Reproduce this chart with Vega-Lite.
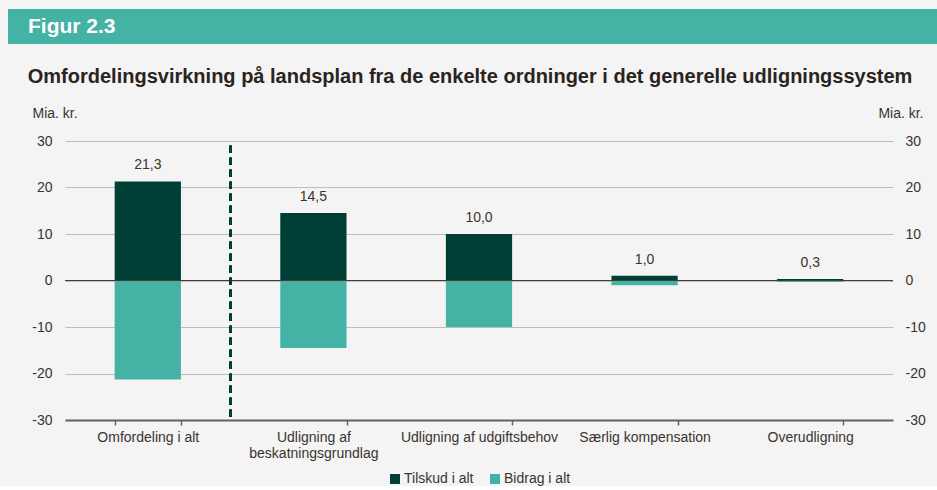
{
  "$schema": "https://vega.github.io/schema/vega-lite/v6.json",
  "background": "#f4f4f4",
  "padding": {"left": 8, "top": 9, "right": 0, "bottom": 0},
  "spacing": 97,
  "center": true,
  "bounds": "flush",
  "datasets": {
    "bars": [
      {"cat": "Omfordeling i alt", "series": "Tilskud i alt", "value": 21.3},
      {"cat": "Omfordeling i alt", "series": "Bidrag i alt", "value": -21.3},
      {"cat": "Udligning af beskatningsgrundlag", "series": "Tilskud i alt", "value": 14.5},
      {"cat": "Udligning af beskatningsgrundlag", "series": "Bidrag i alt", "value": -14.5},
      {"cat": "Udligning af udgiftsbehov", "series": "Tilskud i alt", "value": 10.0},
      {"cat": "Udligning af udgiftsbehov", "series": "Bidrag i alt", "value": -10.0},
      {"cat": "Særlig kompensation", "series": "Tilskud i alt", "value": 1.0},
      {"cat": "Særlig kompensation", "series": "Bidrag i alt", "value": -1.0},
      {"cat": "Overudligning", "series": "Tilskud i alt", "value": 0.3},
      {"cat": "Overudligning", "series": "Bidrag i alt", "value": -0.3}
    ],
    "header": [{"label": "Figur 2.3"}]
  },
  "vconcat": [
    {
      "width": 942,
      "height": 35,
      "view": {"fill": "#44b2a4", "stroke": null},
      "data": {"name": "header"},
      "mark": {"type": "text", "align": "left", "baseline": "middle", "dx": 20, "font": "Liberation Sans", "fontSize": 21, "fontWeight": "bold", "color": "#ffffff"},
      "encoding": {
        "x": {"datum": 0, "type": "quantitative", "scale": {"domain": [0, 1]}, "axis": null},
        "y": {"datum": 0.5, "type": "quantitative", "scale": {"domain": [0, 1]}, "axis": null},
        "text": {"field": "label"}
      }
    },
    {
      "width": 828,
      "height": 279,
      "view": {"stroke": null},
      "title": {
        "text": "Omfordelingsvirkning på landsplan fra de enkelte ordninger i det generelle udligningssystem",
        "anchor": "start",
        "dx": -4,
        "offset": 19,
        "font": "Liberation Sans",
        "fontSize": 20,
        "fontWeight": "bold",
        "color": "#2b2320"
      },
      "data": {"name": "bars"},
      "resolve": {"axis": {"y": "independent"}},
      "layer": [
        {
          "mark": {"type": "bar"},
          "encoding": {
            "x": {
              "field": "cat",
              "type": "nominal",
              "sort": ["Omfordeling i alt", "Udligning af beskatningsgrundlag", "Udligning af udgiftsbehov", "Særlig kompensation", "Overudligning"],
              "scale": {"paddingInner": 0.6, "paddingOuter": 0.3},
              "axis": {
                "title": null,
                "labelAngle": 0,
                "labelExpr": "datum.label == 'Udligning af beskatningsgrundlag' ? ['Udligning af', 'beskatningsgrundlag'] : datum.label",
                "tickBand": "extent",
                "tickSize": 5,
                "tickWidth": 1.5,
                "tickColor": "#6b5f57",
                "domainColor": "#6b5f57",
                "domainWidth": 2,
                "labelPadding": 5,
                "labelLineHeight": 16
              }
            },
            "y": {
              "field": "value",
              "type": "quantitative",
              "stack": null,
              "scale": {"domain": [-30, 30], "nice": false},
              "axis": {
                "orient": "left",
                "values": [-30, -20, -10, 0, 10, 20, 30],
                "grid": true,
                "gridColor": "#bdbdbd",
                "gridWidth": 1,
                "domain": false,
                "ticks": false,
                "tickSize": 0,
                "labelPadding": 13,
                "title": "Mia. kr.",
                "titleAngle": 0,
                "titleAlign": "left",
                "titleBaseline": "middle",
                "titleX": -33,
                "titleY": -28
              }
            },
            "color": {
              "field": "series",
              "type": "nominal",
              "scale": {"domain": ["Tilskud i alt", "Bidrag i alt"], "range": ["#003f35", "#44b3a5"]},
              "legend": {
                "title": null,
                "orient": "bottom",
                "direction": "horizontal",
                "symbolType": "square",
                "symbolSize": 100,
                "symbolStrokeWidth": 0,
                "labelFontSize": 14,
                "labelColor": "#3b332e",
                "labelFont": "Liberation Sans",
                "columnPadding": 14,
                "labelOffset": 2,
                "offset": 12
              }
            }
          }
        },
        {
          "transform": [{"filter": "datum.series == 'Tilskud i alt'"}],
          "mark": {"type": "text", "baseline": "middle", "dy": -16, "fontSize": 14, "font": "Liberation Sans", "color": "#3b332e"},
          "encoding": {
            "x": {"field": "cat", "type": "nominal", "sort": ["Omfordeling i alt", "Udligning af beskatningsgrundlag", "Udligning af udgiftsbehov", "Særlig kompensation", "Overudligning"]},
            "y": {
              "field": "value",
              "type": "quantitative",
              "scale": {"domain": [-30, 30], "nice": false},
              "axis": {
                "orient": "right",
                "values": [-30, -20, -10, 0, 10, 20, 30],
                "grid": false,
                "domain": false,
                "ticks": false,
                "tickSize": 0,
                "labelPadding": 12,
                "labelAlign": "left",
                "title": "Mia. kr.",
                "titleAngle": 0,
                "titleAlign": "right",
                "titleBaseline": "middle",
                "titleX": 30,
                "titleY": -28
              }
            },
            "text": {"field": "value", "type": "quantitative", "format": ".1f"}
          }
        },
        {
          "mark": {"type": "rule", "color": "#4a3b30", "strokeWidth": 1.2},
          "encoding": {"y": {"datum": 0, "axis": null}}
        },
        {
          "mark": {"type": "rule", "color": "#003f35", "strokeWidth": 2, "strokeDash": [7, 5]},
          "encoding": {
            "x": {"datum": "Omfordeling i alt", "bandPosition": 1.75},
            "y": {"datum": 29, "axis": null},
            "y2": {"datum": -30}
          }
        }
      ]
    }
  ],
  "config": {
    "font": "Liberation Sans",
    "locale": {"number": {"decimal": ",", "thousands": ".", "grouping": [3], "currency": ["", " kr."], "minus": "-"}},
    "axis": {
      "labelFont": "Liberation Sans",
      "labelFontSize": 14,
      "labelColor": "#3b332e",
      "titleFont": "Liberation Sans",
      "titleFontSize": 14,
      "titleFontWeight": "normal",
      "titleColor": "#3b332e"
    },
    "legend": {"layout": {"bottom": {"anchor": "middle"}}}
  }
}
